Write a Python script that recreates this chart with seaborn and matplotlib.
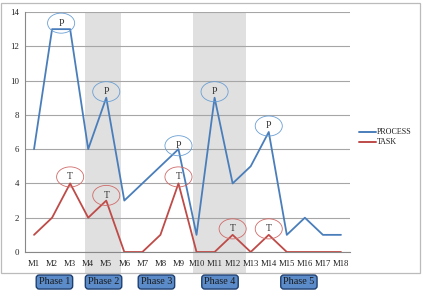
import matplotlib
matplotlib.use("Agg")
import matplotlib.pyplot as plt
from matplotlib.patches import Ellipse, Rectangle, FancyBboxPatch
import matplotlib.transforms as mtransforms
import numpy as np
import pandas as pd
import seaborn as sns

months = [f"M{i}" for i in range(1, 19)]
process = [6, 13, 13, 6, 9, 3, 4, 5, 6, 1, 9, 4, 5, 7, 1, 2, 1, 1]
task = [1, 2, 4, 2, 3, 0, 0, 1, 4, 0, 0, 1, 0, 1, 0, 0, 0, 0]

# annotations: (x position in category units, y value, label)
p_marks_x = [1.5, 4, 8, 10, 13]
p_marks_y = [13.35, 9.35, 6.2, 9.35, 7.35]
t_marks_x = [2, 4, 8, 11, 13]
t_marks_y = [4.38, 3.3, 4.38, 1.35, 1.35]

shade_ranges = [(2.8, 4.8), (8.8, 11.75)]
phases = ["Phase 1", "Phase 2", "Phase 3", "Phase 4", "Phase 5"]
phase_x = [1.13, 3.85, 6.78, 10.3, 14.67]

sns.set_style("white")
plt.rcParams['font.family'] = ['Liberation Serif', 'DejaVu Serif']

W, H = 423, 296
fig = plt.figure(figsize=(W / 100, H / 100), dpi=100)
ax = fig.add_axes([25 / W, 1 - 252 / H, (350 - 25) / W, (252 - 12) / H])

df = pd.DataFrame({
    "month": list(range(18)) * 2,
    "value": process + task,
    "series": ["PROCESS"] * 18 + ["TASK"] * 18,
})
blue = "#4A7EBB"
red = "#BE4B48"
sns.lineplot(data=df, x="month", y="value", hue="series",
             palette={"PROCESS": blue, "TASK": red}, linewidth=1.3, ax=ax,
             legend=False, zorder=3)

# shaded phases (extend below axis)
trans = mtransforms.blended_transform_factory(ax.transData, ax.transAxes)
for a, b in shade_ranges:
    ax.add_patch(Rectangle((a, -0.088), b - a, 1.088, transform=trans,
                           facecolor="#E0E0E0", edgecolor="none", zorder=0,
                           clip_on=False))

ax.set_xlim(-0.5, 17.5)
ax.set_ylim(0, 14)
ax.set_yticks(range(0, 15, 2))
ax.set_xticks(range(18))
ax.set_xticklabels(months)
ax.set_xticks(np.arange(-0.5, 18, 1), minor=True)
ax.tick_params(axis="x", which="major", length=0, labelsize=6.2, pad=6, colors="#222222")
ax.tick_params(axis="x", which="minor", length=3.5, color="#888888", width=0.8, direction="out")
ax.tick_params(axis="y", length=2.5, color="#888888", width=0.8, labelsize=6.3, pad=2, colors="#222222")
ax.tick_params(axis="y", colors="#888888", labelcolor="#222222")
ax.yaxis.grid(True, color="#A6A6A6", linewidth=0.8, zorder=1)
ax.set_axisbelow(True)
ax.set_xlabel("")
ax.set_ylabel("")
for s in ["top", "right"]:
    ax.spines[s].set_visible(False)
ax.spines["left"].set_color("#888888")
ax.spines["left"].set_linewidth(0.8)
ax.spines["bottom"].set_color("#888888")
ax.spines["bottom"].set_linewidth(0.8)
ax.patch.set_alpha(0)

for x, y in zip(p_marks_x, p_marks_y):
    ax.add_patch(Ellipse((x, y), 1.5, 1.17, facecolor="none", edgecolor="#6A9FD4",
                         linewidth=0.6, zorder=4, clip_on=False))
    ax.text(x, y, "P", ha="center", va="center", fontsize=7, color="#333333", zorder=5)
for x, y in zip(t_marks_x, t_marks_y):
    ax.add_patch(Ellipse((x, y), 1.5, 1.17, facecolor="none", edgecolor="#D06A68",
                         linewidth=0.6, zorder=4, clip_on=False))
    ax.text(x, y, "T", ha="center", va="center", fontsize=7, color="#333333", zorder=5)

# legend
for yy, lab, c in [(132, "PROCESS", blue), (142, "TASK", red)]:
    fig.add_artist(plt.Line2D([359 / W, 376 / W], [1 - yy / H, 1 - yy / H],
                              color=c, linewidth=1.4))
    fig.text(377 / W, 1 - yy / H, lab, ha="left", va="center", fontsize=5.8, color="#222222")

# outer frame
fig.add_artist(Rectangle((1 / W, 1 - 273 / H), 419 / W, 270 / H, transform=fig.transFigure,
                         facecolor="none", edgecolor="#BBBBBB", linewidth=0.9))

# phase boxes
for lab, px in zip(phases, phase_x):
    t = ax.text(px, -0.125, lab, transform=trans, ha="center", va="center",
                fontsize=7.3, color="#1A1A1A", clip_on=False,
                bbox=dict(boxstyle="round,pad=0.25,rounding_size=0.3",
                          facecolor="#5B8BC9", edgecolor="#1F3F6F", linewidth=1.0))

fig.savefig("out.png", dpi=100)
